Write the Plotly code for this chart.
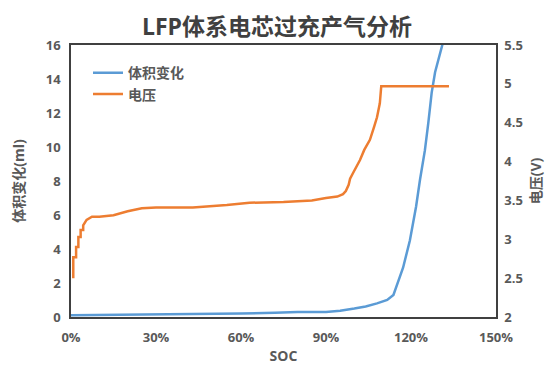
import plotly.graph_objects as go

# SOC (%) and voltage (V)
soc_v = [0.8, 0.8, 1.8, 1.8, 2.6, 2.6, 3.4, 3.4, 4.3, 4.3, 5.5, 7.4, 10, 15, 20, 25, 30,
         43, 55, 63, 75, 85, 90, 94, 96, 97, 98, 98.5, 99.5, 101, 102, 103.5, 105.5,
         107, 108, 109, 109.4, 109.5, 115, 125, 133.4]
volt = [2.50, 2.77, 2.77, 2.90, 2.90, 3.03, 3.03, 3.12, 3.12, 3.18, 3.25, 3.29, 3.29,
        3.31, 3.36, 3.40, 3.41, 3.41, 3.44, 3.47, 3.48, 3.50, 3.53, 3.55, 3.58, 3.62,
        3.70, 3.78, 3.85, 3.95, 4.02, 4.15, 4.28, 4.45, 4.57, 4.75, 4.88, 4.97, 4.97,
        4.97, 4.97]

# SOC (%) and gas volume change (ml)
soc_g = [0, 15, 30, 45, 60, 72, 80, 90, 95, 100, 104, 108, 111.6, 113.8, 115.4, 117.2,
         119.6, 121.8, 123.2, 124.9, 126.1, 127.3, 128.5, 129.6, 131, 132]
gas = [0.1, 0.12, 0.15, 0.17, 0.2, 0.25, 0.3, 0.3, 0.37, 0.5, 0.62, 0.8, 1.0, 1.3, 2.0,
       2.9, 4.5, 6.5, 8.1, 9.8, 11.4, 13.2, 14.4, 15.1, 16.0, 16.6]

x_ticks = [0, 30, 60, 90, 120, 150]
x_labels = ["0%", "30%", "60%", "90%", "120%", "150%"]

FONT = "Open Sans, Noto Sans CJK SC, sans-serif"
GRAY = "#595959"

fig = go.Figure()
fig.add_trace(go.Scatter(x=soc_g, y=gas, name="体积变化", mode="lines",
                         line=dict(color="#5B9BD5", width=2.5), yaxis="y"))
fig.add_trace(go.Scatter(x=soc_v, y=volt, name="电压", mode="lines",
                         line=dict(color="#ED7D31", width=2.5), yaxis="y2"))

fig.update_layout(
    width=554, height=370,
    margin=dict(l=71, r=58, t=45, b=53, autoexpand=False),
    paper_bgcolor="white", plot_bgcolor="white",
    font=dict(family=FONT, color=GRAY, size=13, weight="bold"),
    title=dict(text="LFP体系电芯过充产气分析", x=0.5, xanchor="center",
               y=1 - 27 / 370, yanchor="middle",
               font=dict(size=23, color="#404040", weight="bold")),
    showlegend=True,
    legend=dict(x=0.04, y=0.955, xanchor="left", yanchor="top",
                bgcolor="rgba(0,0,0,0)", font=dict(size=14, color=GRAY, weight="bold"),
                tracegroupgap=0, itemwidth=30),
    xaxis=dict(range=[0, 150], tickvals=x_ticks, ticktext=x_labels, automargin=False,
               showgrid=False, zeroline=False, showline=True, linecolor="#404040",
               linewidth=1.5, mirror=True, ticks="", ticklabelstandoff=8,
               title=dict(text="SOC", font=dict(size=14, weight="bold"), standoff=6)),
    yaxis=dict(range=[0, 16], dtick=2, showgrid=False, zeroline=False, automargin=False,
               showline=True, linecolor="#404040", linewidth=1.5, ticks="",
               ticklabelstandoff=6,
               title=dict(text="体积变化(ml)", font=dict(size=14, weight="bold"), standoff=18)),
    yaxis2=dict(range=[2, 5.5], dtick=0.5, overlaying="y", side="right", automargin=False,
                showgrid=False, zeroline=False, showline=True, linecolor="#404040",
                linewidth=1.5, ticks="", ticklabelstandoff=4,
                title=dict(text="电压(V)", font=dict(size=14, weight="bold"), standoff=9)),
)

fig.write_html("out.html", config={"displayModeBar": False},
               post_script="document.body.style.margin='0';")
